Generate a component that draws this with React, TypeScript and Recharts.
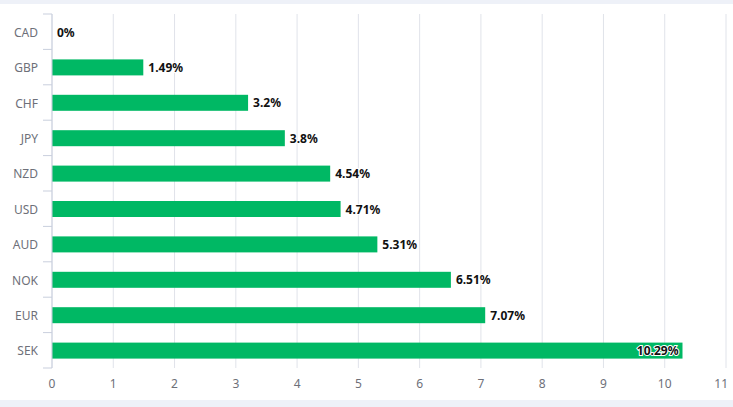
import React from "react";
import { BarChart, Bar, XAxis, YAxis, CartesianGrid } from "recharts";

const currencies = ["CAD", "GBP", "CHF", "JPY", "NZD", "USD", "AUD", "NOK", "EUR", "SEK"];
const changes = [0, 1.49, 3.2, 3.8, 4.54, 4.71, 5.31, 6.51, 7.07, 10.29];
const xTicks = [0, 1, 2, 3, 4, 5, 6, 7, 8, 9, 10, 11];

const data = currencies.map((name, i) => ({ name, value: changes[i] }));

const W = 733;
const H = 396;
const M = { top: 10, right: 7, bottom: 0, left: 0 };
const YW = 52;
const XH = 32;
const plotH = H - M.top - M.bottom - XH;
const band = plotH / currencies.length;
const FONT = "'Noto Sans', 'Open Sans', sans-serif";
const AXIS = "#c9cfdd";
const TXT = "#6e7079";

const YTick = (props: any) => {
  const { x, y, payload, index } = props;
  const ax = YW;
  return (
    <g>
      <line x1={ax - 9} x2={ax} y1={y - band / 2} y2={y - band / 2} stroke={AXIS} />
      {index === currencies.length - 1 && (
        <line x1={ax - 9} x2={ax} y1={y + band / 2} y2={y + band / 2} stroke={AXIS} />
      )}
      <text x={x - 6} y={y} dy={5} textAnchor="end" fontSize={12} fill={TXT} fontFamily={FONT}>
        {payload.value}
      </text>
    </g>
  );
};

const XTick = (props: any) => {
  const { x, y, payload, index } = props;
  const last = index === xTicks.length - 1;
  return (
    <text
      x={last ? x + 2 : x}
      y={y}
      dy={12}
      textAnchor={last ? "end" : "middle"}
      fontSize={12}
      fill={TXT}
      fontFamily={FONT}
    >
      {payload.value}
    </text>
  );
};

const BarShape = (props: any) => {
  const { x, y, width, height, value, fill } = props;
  const v = Array.isArray(value) ? value[1] : value;
  const w = Math.max(0, width || 0);
  const text = `${v}%`;
  const inside = v > 10;
  const tx = inside ? x + w - 4 : x + w + 5;
  return (
    <g>
      {w > 0 && <rect x={x} y={y} width={w} height={height} fill={fill} />}
      <text
        x={tx}
        y={y + height / 2}
        dy={4.5}
        textAnchor={inside ? "end" : "start"}
        fontSize={12}
        fontWeight="bold"
        fill="#111"
        stroke="#fff"
        strokeWidth={2}
        paintOrder="stroke"
        fontFamily={FONT}
      >
        {text}
      </text>
    </g>
  );
};

export default function App() {
  return (
    <div
      style={{
        position: "fixed",
        top: 0,
        left: 0,
        width: 733,
        height: 407,
        background: "#eef1f8",
      }}
    >
      <div style={{ position: "absolute", top: 4, left: 0, width: W, height: H, background: "#fff" }}>
        <BarChart width={W} height={H} data={data} layout="vertical" margin={M} barSize={16}>
          <CartesianGrid horizontal={false} vertical stroke="#e0e3ea" />
          <XAxis
            type="number"
            domain={[0, 11]}
            ticks={xTicks}
            interval={0}
            height={XH}
            axisLine={false}
            tickLine={false}
            tick={<XTick />}
          />
          <YAxis
            type="category"
            dataKey="name"
            width={YW}
            axisLine={{ stroke: AXIS }}
            tickLine={false}
            tick={<YTick />}
            interval={0}
          />
          <Bar dataKey="value" fill="#00b864" isAnimationActive={false} shape={<BarShape />} />
        </BarChart>
      </div>
    </div>
  );
}
